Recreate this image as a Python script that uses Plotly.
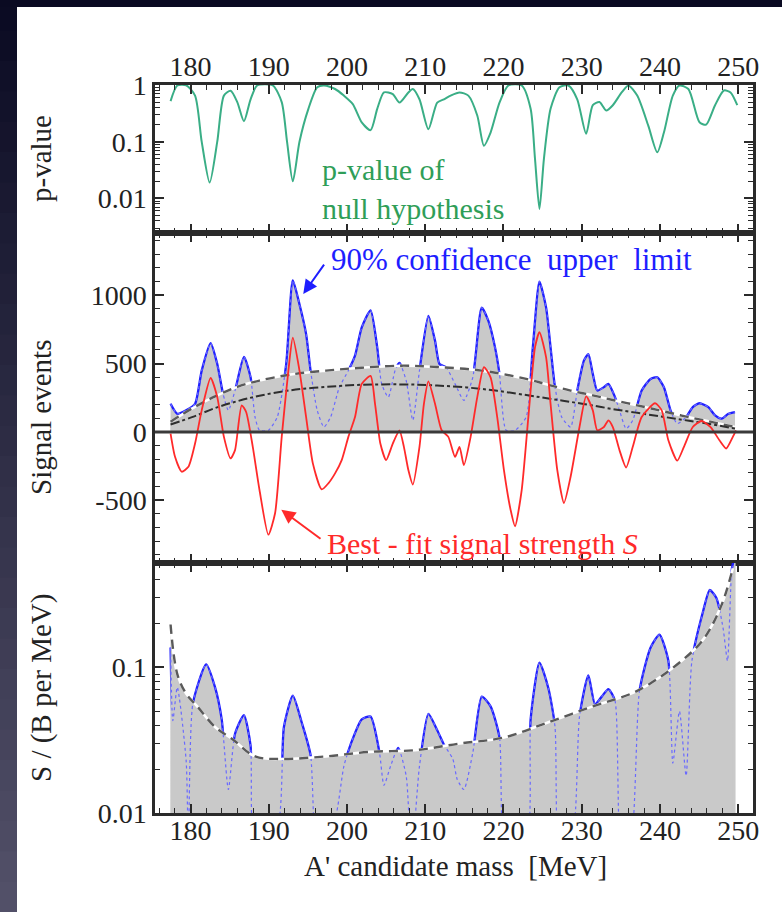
import numpy as np
import plotly.graph_objects as go

# ---------------- data ----------------
# p-value of the null hypothesis vs. A' candidate mass
pval_mass = [177.44, 178.30, 179.43, 180.57, 181.42, 182.44, 183.41, 184.26, 185.11, 185.97,
             186.82, 187.67, 188.52, 190.51, 191.65, 192.33, 193.07, 193.92, 195.06, 196.19,
             197.05, 198.47, 199.60, 200.74, 201.88, 203.01, 203.86, 204.72, 205.85, 206.70,
             207.84, 208.41, 209.26, 210.40, 211.53, 212.39, 213.24, 214.38, 215.51, 216.65,
             217.50, 218.35, 219.49, 220.63, 222.33, 223.47, 224.03, 224.60, 225.17, 226.02,
             227.16, 228.30, 229.43, 230.57, 231.42, 232.27, 233.13, 233.98, 235.11, 235.97,
             237.10, 238.52, 239.66, 240.51, 241.65, 242.50, 243.64, 245.06, 245.91, 247.05,
             248.18, 249.03, 249.89]
pval = [0.52, 0.98, 0.99, 0.65, 0.10, 0.019, 0.10, 0.65, 0.79, 0.50,
        0.23, 0.56, 0.98, 0.98, 0.50, 0.10, 0.020, 0.10, 0.38, 0.91,
        0.98, 0.85, 0.65, 0.46, 0.22, 0.16, 0.38, 0.74, 0.69, 0.49,
        0.74, 0.85, 0.56, 0.166, 0.49, 0.56, 0.65, 0.74, 0.65, 0.29,
        0.085, 0.145, 0.49, 0.98, 0.98, 0.38, 0.05, 0.0065, 0.05, 0.38,
        0.91, 0.98, 0.56, 0.138, 0.44, 0.50, 0.355, 0.44, 0.74, 0.98,
        0.65, 0.19, 0.065, 0.145, 0.65, 0.98, 0.85, 0.22, 0.20, 0.44,
        0.80, 0.74, 0.44]

# 90% CL upper limit on signal events
ul_mass = [177.44, 178.30, 179.43, 180.57, 181.42, 182.56, 183.41, 184.15, 184.83, 185.68,
           186.82, 187.67, 188.24, 188.81, 189.94, 191.08, 192.22, 193.07, 193.92, 194.77,
           195.34, 196.19, 197.05, 197.90, 199.03, 200.17, 201.02, 201.88, 203.01, 203.86,
           204.43, 205.28, 206.14, 206.70, 207.56, 208.41, 209.26, 210.40, 211.25, 211.82,
           212.67, 213.81, 214.94, 216.08, 217.22, 218.07, 218.92, 219.49, 220.34, 221.48,
           222.90, 223.75, 224.60, 225.45, 226.02, 226.59, 227.44, 228.58, 229.43, 230.28,
           230.85, 231.42, 231.99, 232.84, 233.41, 234.26, 234.83, 235.68, 236.53, 237.67,
           238.81, 239.66, 240.51, 241.36, 242.22, 243.35, 244.20, 245.06, 246.19, 247.05,
           247.90, 248.75, 249.60]
ul_events = [206, 133, 158, 206, 449, 650, 497, 279, 158, 303,
             550, 400, 109, 12, 12, 109, 497, 1110, 934, 716,
             449, 158, 36, 109, 328, 449, 558, 765, 890, 619,
             352, 255, 449, 505, 376, 85, 449, 850, 667, 497,
             473, 352, 231, 400, 910, 813, 619, 425, 12, 12,
             109, 619, 1100, 910, 619, 328, 109, 36, 303, 522,
             570, 425, 303, 328, 352, 255, 158, 24, 85, 303,
             388, 400, 328, 158, 61, 109, 182, 210, 182, 121,
             97, 133, 146]

# best-fit signal strength S
fit_mass = [177.44, 178.01, 178.86, 179.72, 180.57, 181.42, 182.56, 183.41, 184.26, 185.11,
            185.68, 186.53, 187.10, 187.95, 188.81, 189.94, 190.80, 191.65, 192.50, 193.07,
            193.92, 194.77, 195.63, 196.76, 197.61, 198.47, 199.32, 200.17, 201.02, 201.88,
            203.01, 203.58, 204.26, 205.00, 205.85, 206.70, 207.27, 207.84, 208.41, 209.26,
            209.83, 210.40, 211.25, 212.10, 212.95, 213.81, 214.38, 214.94, 215.80, 216.65,
            217.50, 218.35, 219.20, 220.06, 220.91, 221.48, 222.33, 223.18, 224.03, 224.60,
            225.45, 226.02, 226.88, 227.73, 228.58, 229.72, 230.57, 231.42, 231.99, 232.84,
            233.41, 233.98, 234.83, 235.68, 236.53, 237.67, 239.38, 240.23, 241.08, 242.22,
            243.07, 244.20, 245.34, 246.48, 247.61, 248.47, 249.32, 249.72]
fit_events = [-12, -182, -291, -255, -85, 158, 395, 255, -36, -194,
              -133, 195, 146, -109, -425, -752, -595, -36, 449, 690,
              449, 109, -230, -420, -376, -303, -206, -36, 109, 352,
              410, 206, -85, -206, -85, 12, -109, -279, -385, -109,
              206, 370, 206, 12, -36, -182, -109, -243, -36, 255,
              475, 400, 109, -279, -570, -690, -425, 109, 619, 730,
              546, 206, -279, -520, -328, 36, 260, 158, 12, 36,
              85, 36, -133, -260, -109, 109, 210, 158, -61, -210,
              -109, 36, 80, 36, -61, -121, -36, 12]

# expected limit (dashed) and median (dash-dot) in signal events
exp_mass = [177.44, 180.28, 183.13, 185.97, 188.81, 192.78, 197.33, 201.88, 206.99, 211.53,
            217.22, 222.90, 225.74, 228.58, 231.42, 234.26, 237.10, 239.94, 242.78, 245.63,
            249.60]
exp_events = [75, 175, 260, 330, 376, 420, 449, 470, 485, 475,
              449, 388, 345, 303, 268, 230, 195, 158, 120, 85,
              36]
med_events = [55, 110, 175, 225, 265, 305, 330, 345, 348, 340,
              315, 270, 245, 220, 193, 165, 140, 115, 90, 65,
              25]

# upper limit on S / (B per MeV)
sb_mass = [177.44, 177.73, 178.30, 179.43, 179.72, 180.28, 181.99, 183.13, 183.98, 184.83,
           185.68, 186.82, 187.67, 188.24, 191.08, 191.93, 193.07, 194.20, 195.34, 196.19,
           198.47, 199.60, 200.45, 201.88, 203.01, 204.15, 204.72, 205.57, 206.53, 207.56,
           208.24, 209.26, 210.40, 211.53, 212.39, 213.52, 214.09, 214.94, 216.08, 217.22,
           218.35, 219.49, 220.34, 222.90, 223.47, 224.60, 225.74, 226.59, 227.16, 228.86,
           229.72, 230.85, 231.70, 232.56, 233.41, 234.26, 235.11, 236.25, 237.39, 238.81,
           239.94, 241.08, 241.65, 242.50, 243.35, 244.09, 245.52, 246.36, 247.22, 248.07,
           248.64, 249.21, 249.67]
sb_ul = [0.137, 0.043, 0.073, 0.023, 0.006, 0.056, 0.105, 0.073, 0.044, 0.0145,
         0.035, 0.047, 0.029, 0.006, 0.008, 0.039, 0.064, 0.042, 0.025, 0.005,
         0.009, 0.021, 0.0295, 0.044, 0.046, 0.026, 0.0155, 0.021, 0.028, 0.018,
         0.005, 0.021, 0.048, 0.037, 0.0295, 0.0235, 0.017, 0.0145, 0.026, 0.063,
         0.054, 0.033, 0.005, 0.006, 0.044, 0.108, 0.072, 0.039, 0.005, 0.007,
         0.046, 0.088, 0.056, 0.063, 0.071, 0.059, 0.005, 0.006, 0.069, 0.137,
         0.168, 0.111, 0.022, 0.05, 0.018, 0.111, 0.243, 0.34, 0.30, 0.187,
         0.111, 0.48, 0.60]

sbexp_mass = [177.44, 178.30, 179.43, 180.85, 183.13, 185.40, 188.24, 191.65, 197.33, 203.01,
              208.69, 214.38, 220.06, 225.74, 231.42, 237.10, 242.78, 245.63, 247.90, 249.32]
sbexp = [0.197, 0.09, 0.066, 0.054, 0.039, 0.032, 0.0245, 0.0235, 0.0245, 0.0263,
         0.027, 0.030, 0.033, 0.042, 0.054, 0.069, 0.111, 0.158, 0.27, 0.48]

mass_ticks = [180, 190, 200, 210, 220, 230, 240, 250]

# ---------------- style ----------------
SERIF = "Liberation Serif"
GREEN = "#3aae86"
GREEN_TXT = "#2f9e58"
BLUE = "#1e1eff"
BLUE_DOT = "#6a6aff"
RED = "#ff2a2a"
GREY = "#c9c9c9"
FRAME = "#2a2a2a"

W, H = 782, 912
L, R, T, B = 155, 29, 85, 99
PW, PH = W - L - R, H - T - B

fig = go.Figure()

# --- panel 1: p-value ---
fig.add_trace(go.Scatter(x=pval_mass, y=pval, mode="lines", xaxis="x", yaxis="y",
                         line=dict(color=GREEN, width=2, shape="spline", smoothing=0.7)))


def limit_panel(xa, ya, mx, ul, ex, ey):
    # grey area under the observed limit
    fig.add_trace(go.Scatter(x=mx, y=ul, mode="lines", fill="tozeroy", fillcolor=GREY,
                             line=dict(width=0, shape="spline", smoothing=0.6),
                             xaxis=xa, yaxis=ya))
    # observed limit, solid where it sits above the expected curve
    fig.add_trace(go.Scatter(x=mx, y=ul, mode="lines", xaxis=xa, yaxis=ya,
                             line=dict(color=BLUE, width=2.3, shape="spline", smoothing=0.6)))
    # grey area under the expected curve hides the part below it
    fig.add_trace(go.Scatter(x=ex, y=ey, mode="lines", fill="tozeroy", fillcolor=GREY,
                             line=dict(width=0, shape="spline"), xaxis=xa, yaxis=ya))
    # observed limit, dotted inside the grey region
    fig.add_trace(go.Scatter(x=mx, y=ul, mode="lines", xaxis=xa, yaxis=ya,
                             line=dict(color=BLUE_DOT, width=1.2, dash="dot",
                                       shape="spline", smoothing=0.6)))
    # expected curve: grey dashes on white
    fig.add_trace(go.Scatter(x=ex, y=ey, mode="lines", xaxis=xa, yaxis=ya,
                             line=dict(color="white", width=2.6, shape="spline")))
    fig.add_trace(go.Scatter(x=ex, y=ey, mode="lines", xaxis=xa, yaxis=ya,
                             line=dict(color="#5a5a5a", width=2.4, dash="9px,6px", shape="spline")))


# --- panel 2: signal events ---
limit_panel("x2", "y2", ul_mass, ul_events, exp_mass, exp_events)
fig.add_trace(go.Scatter(x=exp_mass, y=med_events, mode="lines", xaxis="x2", yaxis="y2",
                         line=dict(color="#2e2e2e", width=2, dash="dashdot", shape="spline")))
fig.add_trace(go.Scatter(x=fit_mass, y=fit_events, mode="lines", xaxis="x2", yaxis="y2",
                         line=dict(color=RED, width=1.8, shape="spline", smoothing=0.6)))

# --- panel 3: S / B ---
limit_panel("x3", "y3", sb_mass, sb_ul, sbexp_mass, sbexp)

# ---------------- axes ----------------
tickfont = dict(family=SERIF, size=28, color="#222222")
xcommon = dict(range=[175.45, 251.9], tickvals=mass_ticks, ticks="inside", ticklen=9,
               tickwidth=1.5, tickcolor=FRAME, mirror="allticks", showline=True,
               linecolor=FRAME, linewidth=2.5, showgrid=False, zeroline=False,
               tickfont=tickfont,
               minor=dict(dtick=2, ticks="inside", ticklen=5, tickwidth=1,
                          tickcolor=FRAME, showgrid=False))
ycommon = dict(ticks="inside", ticklen=9, tickwidth=1.5, tickcolor=FRAME,
               mirror="allticks", showline=True, linecolor=FRAME, linewidth=2.5,
               showgrid=False, zeroline=False, tickfont=tickfont)

d3 = 250 / PH
d2 = 580 / PH

fig.update_layout(
    xaxis=dict(xcommon, anchor="y", side="top", domain=[0, 1], ticklabelstandoff=-5),
    xaxis2=dict(xcommon, anchor="y2", showticklabels=False, domain=[0, 1]),
    xaxis3=dict(xcommon, anchor="y3", side="bottom", domain=[0, 1], ticklabelstandoff=-9),
    yaxis=dict(ycommon, type="log", range=[-2.61, 0.0], domain=[d2, 1],
               tickvals=[0.01, 0.1, 1], ticktext=["0.01", "0.1", "1"],
               minor=dict(ticks="inside", ticklen=5, tickwidth=1, tickcolor=FRAME,
                          dtick="D1", showgrid=False)),
    yaxis2=dict(ycommon, range=[-959, 1456], domain=[d3, d2],
                tickvals=[-500, 0, 500, 1000], ticktext=["-500", "0", "500", "1000"],
                minor=dict(ticks="inside", ticklen=5, tickwidth=1, tickcolor=FRAME,
                           dtick=100, showgrid=False)),
    yaxis3=dict(ycommon, type="log", range=[-2.0, -0.283], domain=[0, d3],
                tickvals=[0.01, 0.1], ticktext=["0.01", "0.1"],
                minor=dict(ticks="inside", ticklen=5, tickwidth=1, tickcolor=FRAME,
                           dtick="D1", showgrid=False)),
)


# ---------------- backdrop ----------------
def px_x(p):
    return (p - L) / PW


def px_y(p):
    return (H - B - p) / PH


shapes = []
top_rgb = np.array([10, 10, 34])
bot_rgb = np.array([84, 82, 106])
nb = 30
for i in range(nb):
    f = (i + 0.5) / nb
    c = (top_rgb * (1 - f) + bot_rgb * f).astype(int)
    col = f"rgb({c[0]},{c[1]},{c[2]})"
    shapes.append(dict(type="rect", xref="paper", yref="paper", layer="below",
                       x0=px_x(0), x1=px_x(17), y0=px_y(H * (i + 1) / nb + 1),
                       y1=px_y(H * i / nb), fillcolor=col, line=dict(width=0)))
shapes.append(dict(type="rect", xref="paper", yref="paper", layer="below",
                   x0=px_x(0), x1=px_x(W), y0=px_y(7), y1=px_y(0),
                   fillcolor="rgb(10,10,34)", line=dict(width=0)))
# zero line of the middle panel
shapes.append(dict(type="line", xref="x2 domain", yref="y2", x0=0, x1=1, y0=0, y1=0,
                   line=dict(color="#3a3a3a", width=3), layer="above"))

# ---------------- labels ----------------
ann = []
ylab_x = px_x(41)
for text, yc in [("p-value", 159), ("Signal events", 418), ("S / (B per MeV)", 688)]:
    ann.append(dict(text=text, xref="paper", yref="paper", x=ylab_x, y=px_y(yc),
                    textangle=-90, showarrow=False, xanchor="center", yanchor="middle",
                    font=dict(family=SERIF, size=29, color="#222222")))
ann.append(dict(text="A' candidate mass\u00a0\u00a0[MeV]", xref="paper", yref="paper",
                x=px_x(455), y=px_y(866), showarrow=False, xanchor="center",
                yanchor="middle", font=dict(family=SERIF, size=29, color="#222222")))

ann.append(dict(text="p-value of<br>null hypothesis", xref="x", yref="y", x=196.6, y=-1.84,
                xanchor="left", yanchor="middle", align="left", showarrow=False,
                font=dict(family=SERIF, size=30, color=GREEN_TXT)))
ann.append(dict(text="90% confidence\u00a0\u00a0upper\u00a0\u00a0limit", xref="x2", yref="y2",
                x=197.7, y=1262, xanchor="left", yanchor="middle", showarrow=False,
                font=dict(family=SERIF, size=31, color=BLUE)))
ann.append(dict(text="Best\u00a0-\u00a0fit signal strength <i>S</i>", xref="x2", yref="y2",
                x=197.2, y=-813, xanchor="left", yanchor="middle", showarrow=False,
                font=dict(family=SERIF, size=30, color=RED)))
ann.append(dict(text="", xref="x2", yref="y2", x=194.4, y=1010, axref="x2", ayref="y2",
                ax=197.2, ay=1235, showarrow=True, arrowhead=2, arrowsize=1.4,
                arrowwidth=2, arrowcolor=BLUE))
ann.append(dict(text="", xref="x2", yref="y2", x=191.6, y=-570, axref="x2", ayref="y2",
                ax=196.8, ay=-790, showarrow=True, arrowhead=2, arrowsize=1.4,
                arrowwidth=2, arrowcolor=RED))

fig.update_layout(width=W, height=H, autosize=False,
                  margin=dict(l=L, r=R, t=T, b=B, pad=0),
                  paper_bgcolor="white", plot_bgcolor="white",
                  showlegend=False, shapes=shapes, annotations=ann)

fig.write_html("out.html")
